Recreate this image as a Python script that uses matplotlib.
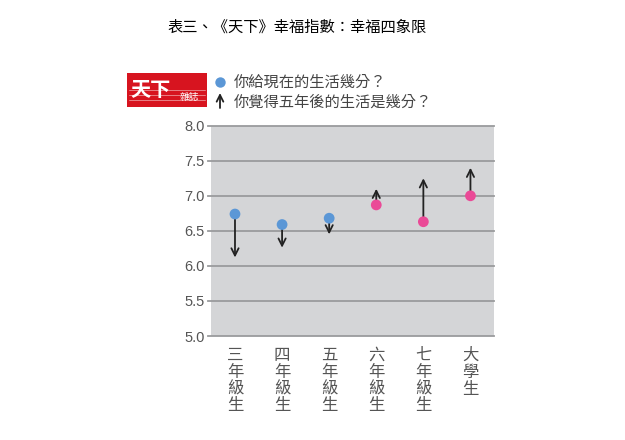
import matplotlib
matplotlib.use("Agg")
import matplotlib.pyplot as plt
from matplotlib.patches import Rectangle, FancyArrowPatch
from matplotlib.lines import Line2D

plt.rcParams['font.family'] = ['Noto Sans CJK TC', 'DejaVu Sans']

title = "表三、《天下》幸福指數：幸福四象限"
categories = ["三年級生", "四年級生", "五年級生", "六年級生", "七年級生", "大學生"]
current = [6.74, 6.59, 6.68, 6.87, 6.63, 7.00]
future = [6.12, 6.26, 6.45, 7.10, 7.25, 7.40]
dot_colors = ["#5b97d6", "#5b97d6", "#5b97d6", "#ea4a97", "#ea4a97", "#ea4a97"]
yticks = [5.0, 5.5, 6.0, 6.5, 7.0, 7.5, 8.0]
legend_labels = ["你給現在的生活幾分？", "你覺得五年後的生活是幾分？"]

W, H = 625, 440
fig = plt.figure(figsize=(W / 100, H / 100), dpi=100)
fig.patch.set_facecolor("white")

def fx(x):
    return x / W

def fy(y):
    return 1 - y / H

left, right, top, bottom = 210.5, 494, 125.7, 336
ax = fig.add_axes([fx(left), fy(bottom), fx(right) - fx(left), fy(top) - fy(bottom)])
ax.set_facecolor("#d4d5d7")
for s in ax.spines.values():
    s.set_visible(False)
ax.set_xlim(-0.52, 5.5)
ax.set_ylim(5.0, 8.0)

for v in yticks:
    ax.axhline(v, xmin=-0.01, xmax=1, color="#9a9b9d", lw=1.3, zorder=1, clip_on=False)

xs = list(range(len(categories)))
for i in xs:
    ax.annotate("", xy=(i, future[i]), xytext=(i, current[i]),
                arrowprops=dict(arrowstyle="->", lw=1.3, color="#222222",
                                shrinkA=0, shrinkB=0, mutation_scale=13),
                zorder=3)
ax.scatter(xs, current, s=60, c=dot_colors, zorder=4, linewidths=0)

ax.set_yticks(yticks)
ax.set_yticklabels([f"{v:.1f}" for v in yticks], family=["Liberation Sans", "DejaVu Sans"],
                   fontsize=10.5, color="#555555")
ax.set_xticks(xs)
ax.set_xticklabels(["\n".join(c) for c in categories], fontsize=11.8, color="#555555",
                   linespacing=0.98, va="top", fontweight="medium")
ax.tick_params(axis="both", length=0)
ax.tick_params(axis="x", pad=8)
ax.tick_params(axis="y", pad=4)

# title
fig.text(fx(297), fy(27), title, ha="center", va="center", fontsize=11, color="#000000")

# logo
lax = fig.add_axes([fx(127), fy(107), fx(207) - fx(127), fy(73) - fy(107)])
lax.set_xlim(0, 80)
lax.set_ylim(0, 34)
lax.axis("off")
lax.add_patch(Rectangle((0, 0), 80, 34, facecolor="#d7141f", edgecolor="none"))
for yy in [7, 12, 17]:
    lax.plot([2, 78], [yy, yy], color="white", lw=0.4, alpha=0.8)
lax.text(24, 17, "天下", ha="center", va="center", fontsize=14.5, color="white",
         fontweight="bold")
lax.text(62, 10, "雜誌", ha="center", va="center", fontsize=7, color="white")

# legend
fig.add_artist(Line2D([fx(220)], [fy(82)], marker="o", markersize=7.5, color="#5b97d6",
                      markeredgewidth=0, transform=fig.transFigure))
fig.add_artist(FancyArrowPatch(
    (fx(220), fy(108)), (fx(220), fy(93)), transform=fig.transFigure,
    arrowstyle="->", lw=1.3, color="#222222", mutation_scale=12, shrinkA=0, shrinkB=0))
fig.text(fx(234), fy(82), legend_labels[0], ha="left", va="center", fontsize=11, color="#444444")
fig.text(fx(234), fy(102), legend_labels[1], ha="left", va="center", fontsize=11, color="#444444")

fig.savefig("out.png", dpi=100, facecolor="white")
